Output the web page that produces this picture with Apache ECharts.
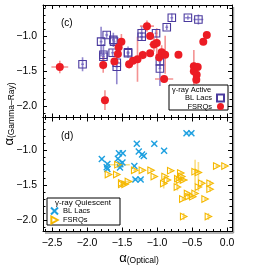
<!DOCTYPE html>
<html><head><meta charset="utf-8">
<script src="https://cdn.jsdelivr.net/npm/echarts@6/dist/echarts.min.js"></script>
<style>html,body{margin:0;padding:0;background:#fff}#c{width:269px;height:269px}</style>
</head><body><div id="c"></div>
<script>
// [alphaOptical, alphaGamma, errOptical, errGamma]
const activeBLLac = [
  [-2.065,-1.40,0.02,0.10],[-1.80,-1.08,0.02,0.21],[-1.767,-1.265,0.02,0.15],[-1.767,-1.295,0.02,0.05],
  [-1.72,-0.985,0.02,0.05],[-1.625,-1.055,0.02,0.10],[-1.615,-1.08,0.02,0.05],[-1.635,-1.237,0.02,0.05],
  [-1.576,-1.38,0.02,0.05],[-1.576,-1.435,0.02,0.25],[-1.415,-1.23,0.02,0.08],[-1.415,-1.245,0.02,0.03],
  [-1.22,-0.96,0.02,0.10],[-1.22,-1.01,0.02,0.05],[-1.015,-0.96,0.02,0.06],[-0.96,-1.36,0.02,0.10],
  [-0.96,-1.46,0.02,0.25],[-0.862,-0.875,0.02,0.04],[-0.79,-0.74,0.02,0.06],[-0.56,-0.74,0.04,0.03],
  [-0.41,-0.765,0.07,0.07]
];
const activeFSRQ = [
  [-2.39,-1.44,0.12,0.09],[-1.77,-1.41,0.02,0.11],[-1.745,-1.91,0.02,0.14],[-1.61,-1.36,0.05,0.05],
  [-1.56,-1.255,0.02,0.06],[-1.55,-1.16,0.02,0.05],[-1.51,-1.08,0.02,0.11],[-1.40,-1.40,0.02,0.06],
  [-1.345,-1.35,0.02,0.03],[-1.28,-1.33,0.02,0.32],[-1.205,-1.27,0.02,0.06],[-1.145,-0.86,0.10,0.08],
  [-1.10,-1.0,0.02,0.05],[-1.10,-1.245,0.02,0.05],[-1.045,-1.12,0.07,0.10],[-1.005,-1.10,0.03,0.21],
  [-0.97,-1.30,0.02,0.06],[-0.935,-1.23,0.03,0.10],[-0.885,-1.265,0.02,0.27],[-0.90,-1.61,0.13,0.05],
  [-0.695,-1.265,0.02,0.03],[-0.475,-1.43,0.02,0.06],[-0.475,-1.50,0.02,0.30],[-0.42,-1.44,0.02,0.06],
  [-0.435,-1.55,0.02,0.05],[-0.44,-1.62,0.02,0.06],[-0.34,-1.08,0.02,0.03],[-0.29,-0.985,0.02,0.03]
];
const quietBLLac = [
  [-0.58,-0.76,0.03,0.02],[-0.51,-0.76,0.03,0.02],[-1.29,-0.912,0.02,0.02],[-1.04,-0.912,0.02,0.02],
  [-0.90,-1.01,0.02,0.02],[-1.262,-1.02,0.02,0.02],[-1.215,-1.065,0.03,0.02],[-1.19,-1.085,0.02,0.02],
  [-1.545,-1.045,0.02,0.02],[-1.49,-1.045,0.02,0.02],[-1.56,-1.125,0.02,0.02],[-1.79,-1.13,0.02,0.02],
  [-1.71,-1.20,0.02,0.02],[-1.72,-1.245,0.04,0.02],[-1.71,-1.27,0.02,0.02],[-1.525,-1.205,0.02,0.04],
  [-1.495,-1.18,0.02,0.02],[-1.53,-1.25,0.03,0.02],[-1.325,-1.23,0.02,0.02],[-1.31,-1.42,0.04,0.02],
  [-1.235,-1.42,0.04,0.02]
];
const quietFSRQ = [
  [-1.56,-1.21,0.17,0.02],[-1.695,-1.35,0.02,0.02],[-1.576,-1.35,0.02,0.02],[-1.32,-1.29,0.02,0.03],
  [-1.21,-1.29,0.02,0.02],[-1.086,-1.29,0.02,0.02],[-1.505,-1.49,0.02,0.04],[-1.505,-1.47,0.02,0.02],
  [-1.457,-1.49,0.02,0.02],[-1.41,-1.45,0.07,0.02],[-1.04,-1.38,0.02,0.02],[-0.805,-1.295,0.02,0.02],
  [-0.905,-1.48,0.02,0.07],[-0.886,-1.38,0.02,0.02],[-0.852,-1.43,0.02,0.02],[-0.71,-1.53,0.02,0.05],
  [-0.68,-1.43,0.05,0.02],[-0.705,-1.41,0.05,0.02],[-0.647,-1.38,0.02,0.03],[-0.624,-1.43,0.06,0.03],
  [-0.662,-1.33,0.02,0.02],[-0.457,-1.31,0.02,0.17],[-0.41,-1.32,0.03,0.15],[-0.362,-1.476,0.02,0.04],
  [-0.41,-1.53,0.02,0.06],[-0.243,-1.476,0.02,0.04],[-0.243,-1.56,0.02,0.04],[-0.633,-1.70,0.02,0.03],
  [-0.553,-1.667,0.02,0.04],[-0.49,-1.667,0.02,0.03],[-0.457,-1.62,0.02,0.02],[-0.565,-1.62,0.02,0.02],
  [-0.314,-1.70,0.02,0.02],[-0.62,-1.95,0.02,0.05],[-0.267,-1.95,0.02,0.05],[-0.148,-1.23,0.02,0.02],
  [-0.03,-1.23,0.02,0.02]
];
const xRange = [-2.63, 0.07];
const yRangeTop = [-2.156, -0.56];
const yRangeBottom = [-2.164, -0.536];

const FONT = 'Liberation Sans';
const fmt = v => v.toFixed(1).replace('-', '\u2212');

function errRender(color) {
  return function (params, api) {
    const x = api.value(0), y = api.value(1), xe = api.value(2), ye = api.value(3);
    const c = api.coord([x, y]);
    const l = api.coord([x - xe, y]), r = api.coord([x + xe, y]);
    const t = api.coord([x, y + ye]), b = api.coord([x, y - ye]);
    return { type: 'group', children: [
      { type: 'line', shape: { x1: l[0], y1: c[1], x2: r[0], y2: c[1] }, style: { stroke: color, lineWidth: 1.6 } },
      { type: 'line', shape: { x1: c[0], y1: t[1], x2: c[0], y2: b[1] }, style: { stroke: color, lineWidth: 1.6 } }
    ]};
  };
}
function xAx(gi, pos, labels) {
  return { type: 'value', gridIndex: gi, position: pos, min: xRange[0], max: xRange[1], splitNumber: 5,
    axisLine: { show: true, onZero: false, lineStyle: { color: '#000', width: 1 } },
    axisTick: { show: true, inside: true, length: 4, lineStyle: { color: '#000' } },
    minorTick: { show: true, splitNumber: 5, length: 2.5, lineStyle: { color: '#000' } },
    splitLine: { show: false },
    axisLabel: { show: labels, showMinLabel: false, showMaxLabel: false, formatter: fmt, color: '#000', fontFamily: FONT, fontSize: 10.5, margin: 6 } };
}
function yAx(gi, pos, range, labels) {
  return { type: 'value', gridIndex: gi, position: pos, min: range[0], max: range[1], splitNumber: 3,
    axisLine: { show: true, onZero: false, lineStyle: { color: '#000', width: 1 } },
    axisTick: { show: true, inside: true, length: 4, lineStyle: { color: '#000' } },
    minorTick: { show: true, splitNumber: 5, length: 2.5, lineStyle: { color: '#000' } },
    splitLine: { show: false },
    axisLabel: { show: labels, showMinLabel: false, showMaxLabel: false, formatter: fmt, color: '#000', fontFamily: FONT, fontSize: 10.5, margin: 6 } };
}
const triPath = 'path://M0,0L9,5L0,10Z';
const xPath = 'path://M0,0L10,10M10,0L0,10';

const chart = echarts.init(document.getElementById('c'), null, { renderer: 'canvas' });
chart.setOption({
  animation: false,
  backgroundColor: '#fff',
  grid: [
    { left: 43, top: 5, width: 189, height: 112.5 },
    { left: 43, top: 117.5, width: 189, height: 114 }
  ],
  xAxis: [xAx(0, 'bottom', false), xAx(0, 'top', false), xAx(1, 'bottom', true), xAx(1, 'top', false)],
  yAxis: [yAx(0, 'left', yRangeTop, true), yAx(0, 'right', yRangeTop, false),
          yAx(1, 'left', yRangeBottom, true), yAx(1, 'right', yRangeBottom, false)],
  legend: [
    { data: ['BL Lacs', 'FSRQs'], orient: 'vertical', right: 44, top: 93.5, align: 'right', padding: 0, z: 20,
      itemWidth: 7, itemHeight: 7, itemGap: 0, textStyle: { fontFamily: FONT, fontSize: 7.5, color: '#000' },
      selectedMode: false },
    { data: ['BL Lacs (quiescent)', 'FSRQs (quiescent)'], orient: 'vertical', left: 50, top: 206.5, align: 'left', padding: 0, z: 20,
      itemWidth: 7, itemHeight: 7, itemGap: 0, textStyle: { fontFamily: FONT, fontSize: 7.5, color: '#000' },
      formatter: n => n.replace(' (quiescent)', ''), selectedMode: false }
  ],
  graphic: [
    { type: 'line', shape: { x1: 233.5, y1: 7, x2: 233.5, y2: 233 }, style: { stroke: '#999', lineWidth: 1.5 }, z: 0 },
    { type: 'line', shape: { x1: 45, y1: 233, x2: 233.5, y2: 233 }, style: { stroke: '#999', lineWidth: 1.5 }, z: 0 },
    { type: 'rect', shape: { x: 169, y: 85, width: 59, height: 25 }, style: { fill: '#fff', stroke: '#000', lineWidth: 1 }, z: 5 },
    { type: 'text', x: 172, y: 85.5, style: { text: '\u03b3-ray Active', fontFamily: FONT, fontSize: 7.5, fill: '#000' }, z: 6 },
    { type: 'rect', shape: { x: 47, y: 198, width: 73, height: 27 }, style: { fill: '#fff', stroke: '#000', lineWidth: 1 }, z: 5 },
    { type: 'text', x: 55, y: 198.5, style: { text: '\u03b3-ray Quiescent', fontFamily: FONT, fontSize: 8, fill: '#000' }, z: 6 },
    { type: 'text', x: 61, y: 18, style: { text: '(c)', fontFamily: FONT, fontSize: 10, fill: '#000' } },
    { type: 'text', x: 61, y: 131, style: { text: '(d)', fontFamily: FONT, fontSize: 10, fill: '#000' } },
    { type: 'text', x: 139, y: 258, style: { text: '{a|\u03b1}{s|(Optical)}', align: 'center', verticalAlign: 'middle',
        rich: { a: { fontFamily: FONT, fontSize: 13, fill: '#000' }, s: { fontFamily: FONT, fontSize: 8.5, fill: '#000', padding: [6, 0, 0, 0] } } } },
    { type: 'text', x: 9, y: 114, rotation: Math.PI / 2, style: { text: '{a|\u03b1}{s|(Gamma\u2013Ray)}', align: 'center', verticalAlign: 'middle',
        rich: { a: { fontFamily: FONT, fontSize: 13, fill: '#000' }, s: { fontFamily: FONT, fontSize: 8.5, fill: '#000', padding: [6, 0, 0, 0] } } } }
  ],
  series: [
    { type: 'custom', xAxisIndex: 0, yAxisIndex: 0, data: activeBLLac, renderItem: errRender('rgba(110,95,190,0.75)'), encode: { x: 0, y: 1 }, clip: true, silent: true, z: 1 },
    { type: 'custom', xAxisIndex: 0, yAxisIndex: 0, data: activeFSRQ, renderItem: errRender('rgba(240,110,110,0.75)'), encode: { x: 0, y: 1 }, clip: true, silent: true, z: 1 },
    { name: 'BL Lacs', type: 'scatter', xAxisIndex: 0, yAxisIndex: 0, data: activeBLLac, symbol: 'rect', symbolSize: 7.5,
      itemStyle: { color: 'rgba(255,255,255,0)', borderColor: '#4a3a9e', borderWidth: 1.1, opacity: 1 }, z: 3 },
    { name: 'FSRQs', type: 'scatter', xAxisIndex: 0, yAxisIndex: 0, data: activeFSRQ, symbol: 'circle', symbolSize: 8,
      itemStyle: { color: '#ec1c24', opacity: 1 }, z: 3 },
    { type: 'custom', xAxisIndex: 2, yAxisIndex: 2, data: quietBLLac, renderItem: errRender('rgba(120,200,240,0.8)'), encode: { x: 0, y: 1 }, clip: true, silent: true, z: 1 },
    { type: 'custom', xAxisIndex: 2, yAxisIndex: 2, data: quietFSRQ, renderItem: errRender('rgba(250,215,100,0.8)'), encode: { x: 0, y: 1 }, clip: true, silent: true, z: 1 },
    { name: 'BL Lacs (quiescent)', type: 'scatter', xAxisIndex: 2, yAxisIndex: 2, data: quietBLLac, symbol: xPath, symbolSize: 6,
      itemStyle: { color: 'rgba(0,0,0,0)', borderColor: '#1ea0e0', borderWidth: 1.4, opacity: 1 }, z: 3 },
    { name: 'FSRQs (quiescent)', type: 'scatter', xAxisIndex: 2, yAxisIndex: 2, data: quietFSRQ, symbol: triPath, symbolSize: 6.5,
      itemStyle: { color: 'rgba(255,255,255,0)', borderColor: '#f5b800', borderWidth: 1.1, opacity: 1 }, z: 3 }
  ]
});
</script></body></html>
